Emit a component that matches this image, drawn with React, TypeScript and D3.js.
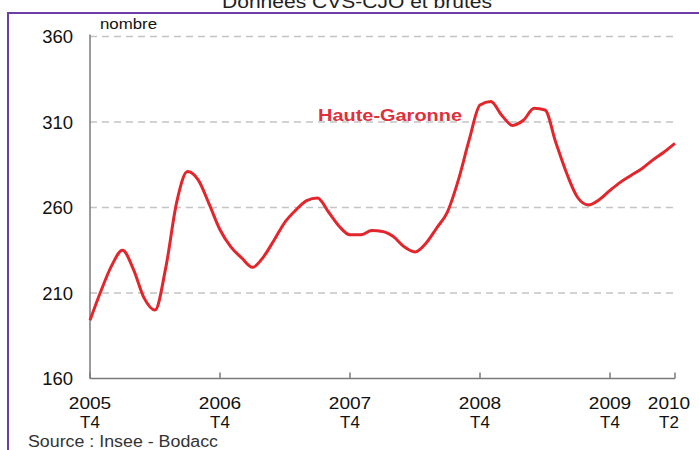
import React from 'react'
import * as d3 from 'd3'

const width = 699
const height = 450

// monthly values, December 2005 (2005 T4) to June 2010 (2010 T2)
const values = [
    194, 211, 226, 235, 224, 207, 200, 225, 263, 281, 276, 262, 247, 237,
    230.5, 225, 231, 241, 251.5, 258.5, 264, 265.5, 257.5, 249, 244, 244,
    246.5, 246, 243, 237, 234, 239, 248, 257.5, 276, 299.5, 320, 322, 314,
    308, 311, 318, 317, 298, 280, 266, 261.5, 264.5, 270, 275, 279, 283,
    288, 292.5, 297.5,
]

const yTicks = [160, 210, 260, 310, 360]
const xTickMonths = [0, 12, 24, 36, 48, 54]
const xTickYears = ['2005', '2006', '2007', '2008', '2009', '2010']
const xTickQuarters = ['T4', 'T4', 'T4', 'T4', 'T4', 'T2']

const title = 'Données CVS-CJO et brutes'
const seriesName = 'Haute-Garonne'
const source = 'Source : Insee - Bodacc'

const font = 'Arial, "Liberation Sans", sans-serif'

export default function App() {
    const x = d3.scaleLinear().domain([0, 54]).range([90, 675])
    const y = d3.scaleLinear().domain([160, 360]).range([378.5, 36.5])

    const line = d3
        .line<number>()
        .x((d, i) => x(i))
        .y((d) => y(d))
        .curve(d3.curveMonotoneX)

    const last = xTickMonths.length - 1

    return (
        <svg
            width={width}
            height={height}
            style={{ position: 'absolute', left: 0, top: 0, background: '#fff' }}
            fontFamily={font}
        >
            <text
                x={357}
                y={8}
                textAnchor="middle"
                fontSize="18px"
                fill="#222"
                textLength={270}
                lengthAdjust="spacingAndGlyphs"
            >
                {title}
            </text>
            <rect
                x={8}
                y={13}
                width={720}
                height={460}
                fill="none"
                stroke="#6b3fa6"
                strokeWidth={2}
            />

            {/* grid */}
            {yTicks.slice(1).map((t) => (
                <line
                    key={t}
                    x1={x(0)}
                    x2={x(54)}
                    y1={y(t)}
                    y2={y(t)}
                    stroke="#c4c4c4"
                    strokeWidth={1.3}
                    strokeDasharray="7,5"
                />
            ))}
            {yTicks.map((t) => (
                <text
                    key={t}
                    x={73}
                    y={y(t)}
                    dy="0.36em"
                    textAnchor="end"
                    fontSize="18.5px"
                    fill="#111"
                >
                    {t}
                </text>
            ))}
            <text
                x={100}
                y={29}
                fontSize="15px"
                fill="#111"
                textLength={57}
                lengthAdjust="spacingAndGlyphs"
            >
                nombre
            </text>

            {/* axes */}
            <line x1={x(0)} x2={x(0)} y1={y(360) - 2} y2={y(160)} stroke="#7a7a7a" strokeWidth={1.5} />
            <line x1={x(0)} x2={x(54)} y1={y(160)} y2={y(160)} stroke="#7a7a7a" strokeWidth={1.5} />
            {xTickMonths.map((m, i) => (
                <g key={m}>
                    <line x1={x(m)} x2={x(m)} y1={y(160)} y2={y(160) - 6} stroke="#7a7a7a" strokeWidth={1.5} />
                    <text
                        x={x(m) + (i === last ? -6 : 0)}
                        y={409}
                        textAnchor="middle"
                        fontSize="17px"
                        fill="#111"
                        textLength={xTickYears[i].length * 10.6}
                        lengthAdjust="spacingAndGlyphs"
                    >
                        {xTickYears[i]}
                    </text>
                    <text
                        x={x(m) + (i === last ? -6 : 0)}
                        y={428}
                        textAnchor="middle"
                        fontSize="17px"
                        fill="#111"
                    >
                        {xTickQuarters[i]}
                    </text>
                </g>
            ))}

            <path d={line(values) || ''} fill="none" stroke="#e3262c" strokeWidth={3} strokeLinejoin="round" />
            <text
                x={318}
                y={121}
                fontSize="17px"
                fontWeight="bold"
                fill="#e0303a"
                textLength={144}
                lengthAdjust="spacingAndGlyphs"
            >
                {seriesName}
            </text>

            <text
                x={28}
                y={446.5}
                fontSize="16px"
                fill="#333"
                textLength={190}
                lengthAdjust="spacingAndGlyphs"
            >
                {source}
            </text>
        </svg>
    )
}
